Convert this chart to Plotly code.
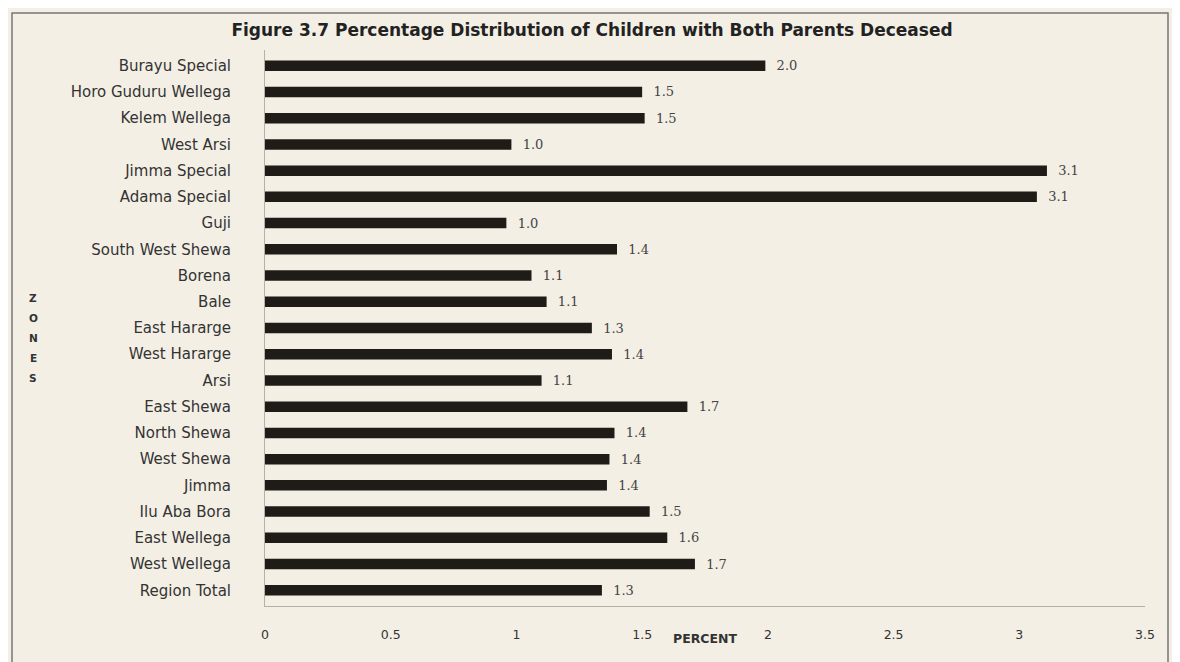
import plotly.graph_objects as go

zones = ["Burayu Special", "Horo Guduru Wellega", "Kelem Wellega", "West Arsi",
         "Jimma Special", "Adama Special", "Guji", "South West Shewa", "Borena",
         "Bale", "East Hararge", "West Hararge", "Arsi", "East Shewa",
         "North Shewa", "West Shewa", "Jimma", "Ilu Aba Bora", "East Wellega",
         "West Wellega", "Region Total"]
percent = [1.99, 1.50, 1.51, 0.98, 3.11, 3.07, 0.96, 1.40, 1.06, 1.12, 1.30,
           1.38, 1.10, 1.68, 1.39, 1.37, 1.36, 1.53, 1.60, 1.71, 1.34]
labels = ["2.0", "1.5", "1.5", "1.0", "3.1", "3.1", "1.0", "1.4", "1.1", "1.1",
          "1.3", "1.4", "1.1", "1.7", "1.4", "1.4", "1.4", "1.5", "1.6", "1.7", "1.3"]
x_ticks = [0, 0.5, 1, 1.5, 2, 2.5, 3, 3.5]
axis_title_letters = list("ZONES")

# page has an 8px body margin; plot area page box: x 265..1145, y 50..606
L, R, T, B = 257, 43, 42, 64
PW, PH = 880, 556

def px_x(p):
    return (p - 265) / PW

def px_y(p):
    return 1 - (p - 50) / PH

bg = "#f3efe5"
fig = go.Figure(go.Bar(
    x=percent, y=zones, orientation="h",
    marker=dict(color="#1f1b17", line=dict(width=0)),
    width=0.4,
    text=labels, texttemplate="  %{text}", textposition="outside", cliponaxis=False,
    constraintext="none",
    textfont=dict(family="DejaVu Serif", size=13, color="#444"),
))

annotations = [
    dict(text="<b>PERCENT</b>", x=(705 - 265) / PW * 3.5, xref="x", y=px_y(638), yref="paper",
         xanchor="center", yanchor="middle",
         showarrow=False, font=dict(family="DejaVu Sans", size=12.5, color="#333")),
]
for i, ch in enumerate(axis_title_letters):
    annotations.append(dict(text="<b>%s</b>" % ch, x=px_x(33), xref="paper",
                            y=px_y(298 + 20 * i), yref="paper", showarrow=False,
                            xanchor="center", yanchor="middle",
                            font=dict(family="DejaVu Sans", size=10.5, color="#333")))

fig.update_layout(
    width=1180, height=662,
    paper_bgcolor=bg, plot_bgcolor=bg,
    margin=dict(l=L, r=R, t=T, b=B),
    showlegend=False,
    title=dict(text="<b>Figure 3.7 Percentage Distribution of Children with Both Parents Deceased</b>",
               x=(592 - 8) / 1180, xanchor="center", y=1 - (30 - 8) / 662, yanchor="middle",
               font=dict(family="DejaVu Sans", size=17, color="#222")),
    xaxis=dict(range=[0, 3.5], tickvals=x_ticks, ticktext=[str(t) for t in x_ticks],
               showgrid=False, zeroline=False, showline=True, linecolor="#b5b1a8", linewidth=1,
               ticks="outside", ticklen=17, tickcolor="rgba(0,0,0,0)",
               tickfont=dict(family="DejaVu Sans", size=12.5, color="#333")),
    yaxis=dict(range=[20.6, -0.6], showgrid=False, zeroline=False, showline=True,
               linecolor="#b5b1a8", linewidth=1, ticks="outside", ticklen=30,
               tickcolor="rgba(0,0,0,0)",
               tickfont=dict(family="DejaVu Sans", size=15, color="#333")),
    font=dict(family="DejaVu Sans"),
    annotations=annotations,
    shapes=[dict(type="rect", xref="paper", yref="paper",
                 x0=px_x(12), x1=px_x(1168), y0=-0.15, y1=px_y(13),
                 line=dict(color="#777", width=1.5), fillcolor="rgba(0,0,0,0)", layer="below")],
)

fig.write_html("out.html")
